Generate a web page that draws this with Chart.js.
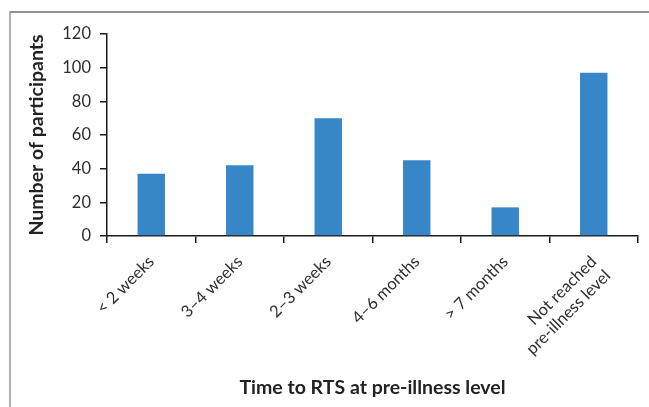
<!DOCTYPE html>
<html>
<head>
<meta charset="utf-8">
<script src="https://cdn.jsdelivr.net/npm/chart.js@4/dist/chart.umd.min.js"></script>
<style>
    html, body { margin: 0; padding: 0; background: #fff; }
    #wrap { width: 649px; height: 407px; }
</style>
</head>
<body>
<div id="wrap"><canvas id="rtsChart" width="649" height="407"></canvas></div>
<script>
// values
var categories = ['< 2 weeks', '3\u20134 weeks', '2\u20133 weeks', '4\u20136 months', '> 7 months', ['Not reached', 'pre-illness level']];
var participants = [37, 42, 70, 45, 17, 97];
var yTicks = [0, 20, 40, 60, 80, 100, 120];

var xTitle = 'Time to RTS at pre-illness level';
var yTitle = 'Number of participants';

var fontName = 'Lato, "Open Sans", sans-serif';
var textColor = '#2e2e2e';
var titleColor = '#222222';
var axisColor = '#1a1a1a';

// grey frame along the top and left edge of the figure
const framePlugin = {
    id: 'frame',
    beforeDraw: function( chart ) {
        const ctx = chart.ctx;
        ctx.save();
        ctx.strokeStyle = '#959595';
        ctx.lineWidth = 2;
        ctx.beginPath();
        ctx.moveTo( 10, 12 );
        ctx.lineTo( 649, 12 );
        ctx.stroke();
        ctx.lineWidth = 1.5;
        ctx.beginPath();
        ctx.moveTo( 10, 11 );
        ctx.lineTo( 10, 407 );
        ctx.stroke();
        ctx.restore();
    }
};

const ctx = document.getElementById('rtsChart').getContext('2d');

const rtsChart = new Chart(ctx, {
    type: 'bar',
    data: {
        labels: categories,
        datasets: [{
            data: participants,
            backgroundColor: '#3686c8',
            barPercentage: 0.31,
            categoryPercentage: 1
        }]
    },
    options: {
        responsive: false,
        animation: false,
        layout: {
            padding: { top: 34, right: 11, bottom: 0, left: 0 }
        },
        plugins: {
            legend: { display: false },
            tooltip: { enabled: false }
        },
        scales: {
            x: {
                afterFit: function( scale ) {
                    scale.height = 171;
                },
                border: { color: axisColor, width: 1.5 },
                grid: {
                    drawOnChartArea: false,
                    color: axisColor,
                    lineWidth: 1.5,
                    tickLength: 7
                },
                ticks: {
                    minRotation: 45,
                    maxRotation: 45,
                    padding: 9,
                    color: textColor,
                    font: { family: fontName, size: 16.5 }
                },
                title: {
                    display: true,
                    text: xTitle,
                    color: titleColor,
                    font: { family: fontName, size: 19.5, weight: 'bold' },
                    padding: { top: 0, bottom: 8 }
                }
            },
            y: {
                min: 0,
                max: 120,
                afterFit: function( scale ) {
                    scale.width = 107;
                },
                afterBuildTicks: function( scale ) {
                    scale.ticks = yTicks.map(function( v ) { return { value: v }; });
                },
                border: { color: axisColor, width: 1.5 },
                grid: {
                    drawOnChartArea: false,
                    color: axisColor,
                    lineWidth: 1.5,
                    tickLength: 7
                },
                ticks: {
                    padding: 9,
                    color: textColor,
                    font: { family: fontName, size: 16.5 }
                },
                title: {
                    display: true,
                    text: yTitle,
                    color: titleColor,
                    font: { family: fontName, size: 19.5, weight: 'bold' },
                    padding: { top: 25, bottom: 0 }
                }
            }
        }
    },
    plugins: [framePlugin]
});
</script>
</body>
</html>
